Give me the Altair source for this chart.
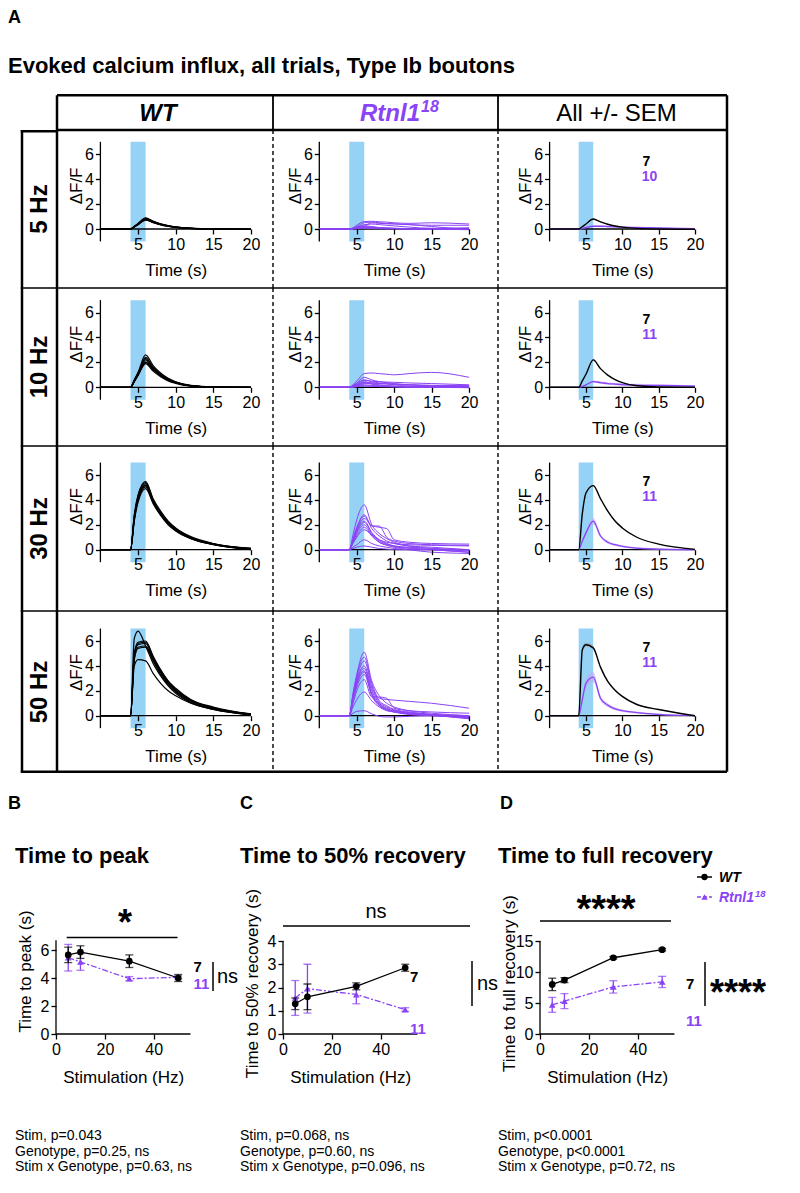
import altair as alt
import pandas as pd

FONT = "Liberation Sans"
PURPLE = "#8a43f5"
BLUE = "#96d1f6"

# ----------------------------- Panel A data -----------------------------
T = [0, 4, 4.5, 5, 6, 7, 8, 9, 10, 12, 15, 20]
row_labels = ["5 Hz", "10 Hz", "30 Hz", "50 Hz"]
col_labels = ["WT", "Rtnl1", "All +/- SEM"]
col_sup = ["", "18", ""]
n_wt = ["7", "7", "7", "7"]
n_rt = ["10", "11", "11", "11"]
stim_window = [4, 6]
x_ticks_a = [5, 10, 15, 20]
y_ticks_a = [0, 2, 4, 6]

wt_5hz = [
    [0, 0, 0.20, 0.42, 0.85, 0.60, 0.40, 0.26, 0.16, 0.06, 0.00, -0.03],
    [0, 0, 0.18, 0.38, 0.78, 0.55, 0.36, 0.23, 0.14, 0.05, -0.01, -0.02],
    [0, 0, 0.20, 0.40, 0.80, 0.58, 0.38, 0.24, 0.15, 0.05, 0.00, -0.02],
    [0, 0, 0.16, 0.35, 0.72, 0.50, 0.33, 0.20, 0.12, 0.04, -0.02, -0.04],
    [0, 0, 0.22, 0.45, 0.90, 0.64, 0.42, 0.28, 0.18, 0.07, 0.01, -0.01],
    [0, 0, 0.19, 0.40, 0.82, 0.60, 0.40, 0.25, 0.15, 0.05, -0.01, -0.03],
    [0, 0, 0.17, 0.37, 0.76, 0.53, 0.35, 0.22, 0.13, 0.04, -0.02, -0.03],
]
rt_5hz = [
    [0, 0, 0.10, 0.30, 0.60, 0.62, 0.58, 0.55, 0.50, 0.45, 0.50, 0.40],
    [0, 0, 0.05, 0.20, 0.50, 0.55, 0.50, 0.45, 0.42, 0.35, 0.30, 0.30],
    [0, 0, 0.05, 0.15, 0.35, 0.40, 0.35, 0.30, 0.25, 0.15, 0.05, 0.00],
    [0, 0, 0.02, 0.08, 0.20, 0.50, 0.45, 0.42, 0.40, 0.35, 0.20, -0.05],
    [0, 0, 0.02, 0.05, 0.10, 0.08, 0.05, 0.03, 0.02, 0.00, -0.02, -0.05],
    [0, 0, 0.03, 0.08, 0.15, 0.12, 0.10, 0.07, 0.05, 0.02, 0.00, 0.00],
    [0, 0, 0.05, 0.15, 0.25, 0.20, 0.12, 0.08, 0.05, 0.02, 0.00, -0.03],
    [0, 0, 0.00, 0.02, 0.05, 0.04, 0.03, 0.02, 0.02, 0.00, -0.02, -0.05],
    [0, 0, 0.03, 0.10, 0.18, 0.15, 0.10, 0.08, 0.06, 0.03, 0.05, 0.10],
    [0, 0, 0.02, 0.05, 0.08, 0.06, 0.04, 0.03, 0.03, 0.02, 0.00, -0.04],
]
wt_10hz = [
    [0, 0, 0.60, 1.20, 2.60, 1.75, 1.15, 0.72, 0.45, 0.15, 0.03, 0.00],
    [0, 0, 0.55, 1.10, 2.40, 1.60, 1.05, 0.66, 0.42, 0.14, 0.02, 0.00],
    [0, 0, 0.50, 1.00, 2.20, 1.50, 0.98, 0.60, 0.38, 0.12, 0.02, -0.01],
    [0, 0, 0.50, 1.00, 2.05, 1.40, 0.92, 0.56, 0.35, 0.11, 0.01, -0.01],
    [0, 0, 0.45, 0.95, 1.90, 1.30, 0.85, 0.52, 0.32, 0.10, 0.01, 0.00],
    [0, 0, 0.48, 0.98, 2.00, 1.45, 0.95, 0.60, 0.38, 0.12, 0.02, 0.00],
    [0, 0, 0.55, 1.12, 2.30, 1.55, 1.00, 0.63, 0.40, 0.13, 0.02, 0.00],
]
rt_10hz = [
    [0, 0, 0.20, 0.50, 1.10, 1.15, 1.10, 1.05, 1.00, 1.10, 1.20, 0.80],
    [0, 0, 0.15, 0.35, 0.80, 0.60, 0.45, 0.38, 0.30, 0.20, 0.10, 0.05],
    [0, 0, 0.10, 0.30, 0.60, 0.45, 0.35, 0.28, 0.20, 0.10, 0.05, 0.00],
    [0, 0, 0.08, 0.20, 0.45, 0.35, 0.30, 0.28, 0.25, 0.20, 0.15, 0.10],
    [0, 0, 0.05, 0.15, 0.35, 0.25, 0.15, 0.10, 0.08, 0.03, 0.00, -0.02],
    [0, 0, 0.05, 0.12, 0.30, 0.35, 0.30, 0.28, 0.25, 0.20, 0.15, 0.15],
    [0, 0, 0.03, 0.08, 0.20, 0.15, 0.10, 0.07, 0.05, 0.02, 0.00, 0.00],
    [0, 0, 0.02, 0.05, 0.12, 0.10, 0.08, 0.06, 0.05, 0.02, 0.00, -0.03],
    [0, 0, 0.05, 0.15, 0.40, 0.30, 0.20, 0.15, 0.10, 0.05, 0.02, 0.00],
    [0, 0, 0.02, 0.05, 0.10, 0.08, 0.05, 0.04, 0.03, 0.01, 0.00, 0.00],
    [0, 0, 0.10, 0.25, 0.55, 0.50, 0.45, 0.42, 0.40, 0.35, 0.30, 0.20],
]
wt_30hz = [
    [0, 0, 2.80, 4.40, 5.50, 4.10, 3.10, 2.30, 1.75, 1.05, 0.50, 0.10],
    [0, 0, 2.60, 4.20, 5.30, 4.00, 3.00, 2.25, 1.70, 1.00, 0.48, 0.08],
    [0, 0, 2.50, 4.10, 5.20, 3.90, 2.90, 2.15, 1.60, 0.95, 0.45, 0.05],
    [0, 0, 2.40, 4.00, 5.05, 3.80, 2.80, 2.05, 1.55, 0.90, 0.42, 0.05],
    [0, 0, 2.30, 3.80, 4.90, 3.70, 2.75, 2.00, 1.50, 0.88, 0.40, 0.02],
    [0, 0, 2.70, 4.30, 5.40, 4.00, 2.95, 2.20, 1.65, 0.98, 0.47, 0.10],
    [0, 0, 2.50, 4.10, 5.15, 3.85, 2.85, 2.10, 1.60, 0.92, 0.43, 0.00],
]
rt_30hz = [
    [0, 0, 1.20, 2.40, 3.60, 2.00, 1.30, 0.90, 0.60, 0.30, 0.10, -0.10],
    [0, 0, 0.90, 1.80, 2.80, 1.70, 1.10, 0.70, 0.50, 0.30, 0.20, 0.00],
    [0, 0, 0.80, 1.70, 2.70, 1.90, 1.90, 1.00, 0.70, 0.50, 0.40, 0.35],
    [0, 0, 0.80, 1.60, 2.50, 1.95, 1.80, 1.70, 0.80, 0.60, 0.50, 0.45],
    [0, 0, 0.70, 1.50, 2.30, 1.40, 0.80, 0.50, 0.30, 0.15, 0.00, -0.20],
    [0, 0, 0.70, 1.40, 2.20, 1.30, 0.70, 0.45, 0.30, 0.20, 0.10, 0.00],
    [0, 0, 0.60, 1.30, 2.00, 1.20, 0.60, 0.35, 0.20, 0.00, -0.20, -0.30],
    [0, 0, 0.55, 1.10, 1.80, 1.10, 0.60, 0.40, 0.25, 0.10, 0.00, -0.20],
    [0, 0, 0.20, 0.40, 0.80, 0.50, 0.30, 0.20, 0.10, 0.00, 0.00, 0.00],
    [0, 0, 0.10, 0.20, 0.30, 0.20, 0.10, 0.05, 0.00, 0.00, 0.00, 0.00],
    [0, 0, 0.50, 1.00, 1.60, 1.20, 0.80, 0.60, 0.50, 0.40, 0.35, 0.30],
]
wt_50hz = [
    [0, 0, 6.20, 6.80, 5.60, 4.20, 3.20, 2.40, 1.80, 1.05, 0.50, 0.10],
    [0, 0, 5.00, 5.90, 6.00, 4.80, 3.70, 2.80, 2.20, 1.30, 0.70, 0.15],
    [0, 0, 4.90, 5.80, 5.90, 4.70, 3.60, 2.75, 2.10, 1.25, 0.65, 0.12],
    [0, 0, 4.80, 5.70, 5.80, 4.60, 3.50, 2.65, 2.00, 1.20, 0.60, 0.10],
    [0, 0, 4.60, 5.50, 5.60, 4.50, 3.45, 2.60, 2.00, 1.20, 0.62, 0.12],
    [0, 0, 4.50, 5.40, 5.50, 4.40, 3.30, 2.50, 1.90, 1.10, 0.55, 0.08],
    [0, 0, 4.00, 4.50, 4.40, 3.40, 2.60, 2.00, 1.60, 1.00, 0.50, 0.05],
]
rt_50hz = [
    [0, 0, 1.80, 3.30, 5.10, 2.80, 1.60, 1.00, 0.70, 0.40, 0.20, 0.00],
    [0, 0, 1.70, 3.20, 4.70, 2.60, 1.40, 1.30, 1.25, 1.15, 1.00, 0.60],
    [0, 0, 1.60, 3.00, 4.40, 2.40, 1.20, 0.80, 0.50, 0.30, 0.10, -0.20],
    [0, 0, 1.50, 2.80, 4.00, 2.20, 1.10, 0.70, 0.45, 0.25, 0.05, -0.25],
    [0, 0, 1.40, 2.70, 3.80, 2.00, 1.00, 0.60, 0.40, 0.20, 0.05, -0.20],
    [0, 0, 1.30, 2.60, 3.60, 1.80, 0.90, 0.55, 0.35, 0.15, 0.00, -0.10],
    [0, 0, 1.30, 2.50, 3.50, 1.70, 0.85, 0.50, 0.30, 0.10, 0.00, -0.15],
    [0, 0, 1.20, 2.30, 3.30, 1.60, 0.80, 0.45, 0.30, 0.15, 0.10, -0.10],
    [0, 0, 0.70, 1.30, 1.90, 1.20, 0.70, 0.40, 0.30, 0.20, 0.10, 0.00],
    [0, 0, 0.20, 0.35, 0.40, 0.15, -0.05, -0.10, -0.10, -0.05, 0.00, 0.00],
    [0, 0, 1.00, 2.00, 2.90, 1.50, 1.50, 1.40, 0.60, 0.40, 0.30, 0.20],
]

wt_mean_5hz = [0, 0, 0.19, 0.40, 0.80, 0.57, 0.38, 0.24, 0.15, 0.05, 0.00, -0.02]
wt_sem_5hz = [0.01, 0.01, 0.02, 0.03, 0.05, 0.04, 0.03, 0.02, 0.02, 0.01, 0.01, 0.01]
rt_mean_5hz = [0, 0, 0.04, 0.12, 0.22, 0.22, 0.20, 0.17, 0.15, 0.12, 0.08, 0.02]
rt_sem_5hz = [0.01, 0.01, 0.02, 0.04, 0.06, 0.07, 0.07, 0.06, 0.06, 0.05, 0.05, 0.05]
wt_mean_10hz = [0, 0, 0.52, 1.05, 2.20, 1.50, 0.98, 0.62, 0.38, 0.12, 0.02, 0.00]
wt_sem_10hz = [0.01, 0.01, 0.03, 0.05, 0.09, 0.06, 0.04, 0.03, 0.02, 0.01, 0.01, 0.01]
rt_mean_10hz = [0, 0, 0.08, 0.20, 0.45, 0.38, 0.30, 0.26, 0.22, 0.18, 0.15, 0.10]
rt_sem_10hz = [0.01, 0.01, 0.02, 0.04, 0.09, 0.09, 0.09, 0.09, 0.09, 0.10, 0.10, 0.07]
wt_mean_30hz = [0, 0, 2.90, 4.55, 5.15, 4.10, 3.10, 2.30, 1.75, 1.00, 0.45, 0.03]
wt_sem_30hz = [0.01, 0.01, 0.10, 0.08, 0.08, 0.07, 0.06, 0.05, 0.04, 0.03, 0.02, 0.02]
rt_mean_30hz = [0, 0, 0.70, 1.35, 2.30, 1.10, 0.60, 0.40, 0.27, 0.12, 0.05, 0.00]
rt_sem_30hz = [0.01, 0.01, 0.10, 0.15, 0.25, 0.15, 0.12, 0.10, 0.08, 0.07, 0.07, 0.07]
wt_mean_50hz = [0, 0, 5.30, 5.70, 5.45, 3.90, 2.75, 2.05, 1.55, 0.90, 0.50, 0.00]
wt_sem_50hz = [0.01, 0.01, 0.20, 0.15, 0.12, 0.10, 0.08, 0.07, 0.06, 0.04, 0.03, 0.02]
rt_mean_50hz = [0, 0, 1.30, 2.60, 3.10, 1.40, 0.85, 0.55, 0.40, 0.25, 0.10, 0.00]
rt_sem_50hz = [0.01, 0.01, 0.20, 0.35, 0.40, 0.20, 0.15, 0.12, 0.10, 0.08, 0.06, 0.05]

wt_traces = [wt_5hz, wt_10hz, wt_30hz, wt_50hz]
rt_traces = [rt_5hz, rt_10hz, rt_30hz, rt_50hz]
wt_means = [(wt_mean_5hz, wt_sem_5hz), (wt_mean_10hz, wt_sem_10hz),
            (wt_mean_30hz, wt_sem_30hz), (wt_mean_50hz, wt_sem_50hz)]
rt_means = [(rt_mean_5hz, rt_sem_5hz), (rt_mean_10hz, rt_sem_10hz),
            (rt_mean_30hz, rt_sem_30hz), (rt_mean_50hz, rt_sem_50hz)]

# ----------------------------- Panels B-D data -----------------------------
stim_hz = [5, 10, 30, 50]
wt_peak = [5.65, 5.85, 5.2, 4.0]
wt_peak_sem = [0.55, 0.45, 0.45, 0.25]
rt_peak = [5.45, 5.15, 3.95, 4.05]
rt_peak_sem = [0.95, 0.6, 0.15, 0.1]
wt_half = [1.3, 1.6, 2.05, 2.85]
wt_half_sem = [0.25, 0.55, 0.15, 0.15]
rt_half = [1.55, 1.95, 1.7, 1.05]
rt_half_sem = [0.75, 1.05, 0.4, 0.08]
wt_full = [8.0, 8.7, 12.3, 13.6]
wt_full_sem = [1.0, 0.4, 0.2, 0.2]
rt_full = [4.7, 5.3, 7.6, 8.4]
rt_full_sem = [1.2, 1.2, 1.0, 0.9]
stats_b = ["Stim, p=0.043", "Genotype, p=0.25, ns", "Stim x Genotype, p=0.63, ns"]
stats_c = ["Stim, p=0.068, ns", "Genotype, p=0.60, ns", "Stim x Genotype, p=0.096, ns"]
stats_d = ["Stim, p<0.0001", "Genotype, p<0.0001", "Stim x Genotype, p=0.72, ns"]

# ----------------------------- layout geometry -----------------------------
COL_W = [216, 225, 229]
COL_X0 = [43.4, 46.3, 51.6]
COL_PPX = [7.53, 7.49, 7.27]
ROW_H = [158, 158, 165, 162]
ROW_Y0 = [99, 99.3, 103.7, 104.7]
PPY_A = 12.45
LABEL_W = 49
LABEL_X = 14
HEADER_H = 36
TOP_H = 86
BH = 414
PPX_B = 2.444

DUMMY = pd.DataFrame({"d": [0]})


class Frame:
    def __init__(self, W, H, x0, ppx, y0, ppy):
        self.xs = alt.Scale(domain=[-x0 / ppx, (W - x0) / ppx], nice=False, zero=False)
        self.ys = alt.Scale(domain=[-(H - y0) / ppy, y0 / ppy], nice=False, zero=False)

    def X(self, f, axis=None):
        if axis is None:
            return alt.X(f, type="quantitative", scale=self.xs)
        return alt.X(f, type="quantitative", scale=self.xs, axis=axis)

    def Y(self, f, axis=None):
        if axis is None:
            return alt.Y(f, type="quantitative", scale=self.ys)
        return alt.Y(f, type="quantitative", scale=self.ys, axis=axis)


def vline(x, y1, y2, w, dash=None):
    kw = dict(color="black", strokeWidth=w)
    if dash:
        kw["strokeDash"] = dash
    return alt.Chart(DUMMY).mark_rule(**kw).encode(x=alt.value(x), y=alt.value(y1), y2=alt.value(y2))


def hline(y, x1, x2, w, color="black", dash=None):
    kw = dict(color=color, strokeWidth=w)
    if dash:
        kw["strokeDash"] = dash
    return alt.Chart(DUMMY).mark_rule(**kw).encode(y=alt.value(y), x=alt.value(x1), x2=alt.value(x2))


def txt(x, y, s, size, color="black", weight="normal", style="normal", align="left",
        baseline="middle", angle=0):
    return alt.Chart(DUMMY).mark_text(
        text=s, font=FONT, fontSize=size, color=color, fontWeight=weight, fontStyle=style,
        align=align, baseline=baseline, angle=angle
    ).encode(x=alt.value(x), y=alt.value(y))


def axis(values, offset, title, tx, ty, angle=0, lsize=16, tsize=17):
    return alt.Axis(
        values=values, offset=offset, domain=False, grid=False, ticks=True, tickSize=5,
        tickWidth=1.3, tickColor="black", labelFont=FONT, labelFontSize=lsize,
        labelColor="black", labelPadding=2, labelFlush=False, labelOverlap=False,
        title=title, titleFont=FONT, titleFontSize=tsize, titleFontWeight="normal",
        titleColor="black", titleX=tx, titleY=ty, titleAngle=angle, titleAlign="center",
        titleBaseline="middle", zindex=1,
    )


def traces_df(traces):
    recs = []
    for k, tr in enumerate(traces):
        for t, v in zip(T, tr):
            recs.append({"t": t, "v": v, "k": k})
    return pd.DataFrame(recs)


def trace_cell(r, c):
    W, H = COL_W[c], ROW_H[r]
    x0, ppx, y0 = COL_X0[c], COL_PPX[c], ROW_Y0[r]
    F = Frame(W, H, x0, ppx, y0, PPY_A)
    xax = axis(x_ticks_a, y0 - H, "Time (s)", x0 + 10 * ppx, 41)
    yax = axis(y_ticks_a, -x0, "ΔF/F", -24, y0 - 3.5 * PPY_A, angle=270)
    band = alt.Chart(pd.DataFrame({"a": [stim_window[0]], "b": [stim_window[1]],
                                   "lo": [-1], "hi": [7]})).mark_rect(color=BLUE).encode(
        x=F.X("a", xax), x2="b:Q", y=F.Y("lo", yax), y2="hi:Q")
    axl = alt.Chart(pd.DataFrame({"x1": [0, 0], "x2": [20, 0], "y1": [0, -1], "y2": [0, 7]})).mark_rule(
        color="black", strokeWidth=1.3).encode(x=F.X("x1"), x2="x2:Q", y=F.Y("y1"), y2="y2:Q")
    layers = [band, axl]
    if c == 0:
        layers.append(alt.Chart(traces_df(wt_traces[r])).mark_line(
            color="black", strokeWidth=1.2, interpolate="monotone").encode(
            x=F.X("t"), y=F.Y("v"), detail="k:N"))
    elif c == 1:
        layers.append(alt.Chart(traces_df(rt_traces[r])).mark_line(
            color=PURPLE, strokeWidth=1.0, interpolate="monotone").encode(
            x=F.X("t"), y=F.Y("v"), detail="k:N"))
    else:
        for (m, s), col, band_col, w in [(rt_means[r], PURPLE, "#c3a6f7", 1.3),
                                         (wt_means[r], "black", "#9a9a9a", 1.4)]:
            df = pd.DataFrame({"t": T, "m": m, "s": s})
            base = alt.Chart(df).transform_calculate(lo="datum.m - datum.s", hi="datum.m + datum.s")
            layers.append(base.mark_area(color=band_col, opacity=0.6, interpolate="monotone").encode(
                x=F.X("t"), y=F.Y("lo"), y2="hi:Q"))
            layers.append(base.mark_line(color=col, strokeWidth=w, interpolate="monotone").encode(
                x=F.X("t"), y=F.Y("m")))
        ndf = pd.DataFrame({"x": [13.3, 13.75], "y": [5.4, 4.2], "n": [n_wt[r], n_rt[r]],
                            "g": ["WT", "Rtnl"]})
        layers.append(alt.Chart(ndf).mark_text(font=FONT, fontSize=14, fontWeight="bold",
                                               align="center", baseline="middle").encode(
            x=F.X("x"), y=F.Y("y"), text="n:N",
            color=alt.Color("g:N", scale=alt.Scale(domain=["WT", "Rtnl"], range=["black", PURPLE]),
                            legend=None)))
    last = r == 3
    vend = H - 1.3 if last else H
    layers.append(hline(H - 1.25 if last else H, 0, W, 2.5 if last else 1.6))
    if c < 2:
        layers.append(vline(W, 0, vend, 1.4, dash=[4, 3]))
    else:
        layers.append(vline(W, 0, vend, 2.5))
    return alt.layer(*layers).properties(width=W, height=H)


def label_cell(r):
    H = ROW_H[r]
    last = r == 3
    vend = H - 1.3 if last else H
    layers = [txt((LABEL_X + LABEL_W) / 2, H / 2, row_labels[r], 24, weight="bold",
                  align="center", angle=270),
              vline(LABEL_X, 0, vend, 2.5), vline(LABEL_W, 0, vend, 2.5),
              hline(H - 1.25 if last else H, LABEL_X - 1.25, LABEL_W, 2.5 if last else 1.6)]
    if r == 0:
        layers.append(hline(1.25, LABEL_X - 1.25, LABEL_W, 2.5))
    return alt.layer(*layers).properties(width=LABEL_W, height=H)


def header_cell(c):
    W = COL_W[c]
    if c == 0:
        layers = [txt(101, 26.5, col_labels[0], 24, weight="bold", style="italic",
                      align="center", baseline="alphabetic")]
    elif c == 1:
        layers = [txt(147, 26.5, col_labels[1], 24, color=PURPLE, weight="bold", style="italic",
                      align="right", baseline="alphabetic"),
                  txt(148, 18, col_sup[1], 16, color=PURPLE, weight="bold", style="italic",
                      align="left", baseline="alphabetic")]
    else:
        layers = [txt(W / 2 + 4, 26.5, col_labels[2], 24, align="center", baseline="alphabetic")]
    layers += [hline(1.25, 0, W, 2.5), hline(HEADER_H, 0, W, 2.5),
               vline(W, 1.3, HEADER_H, 2.5 if c == 2 else 1.8)]
    if c == 0:
        layers.append(vline(0, 1.3, HEADER_H, 2.5))
    return alt.layer(*layers).properties(width=W, height=HEADER_H)


def series_layers(F, mean, sem, color, shape, dash=None):
    df = pd.DataFrame({"s": stim_hz, "m": mean, "e": sem})
    base = alt.Chart(df).transform_calculate(lo="datum.m - datum.e", hi="datum.m + datum.e")
    lkw = dict(color=color, strokeWidth=1.3)
    if dash:
        lkw["strokeDash"] = dash
    return [
        base.mark_rule(color=color, strokeWidth=1.3).encode(x=F.X("s"), y=F.Y("lo"), y2="hi:Q"),
        base.mark_tick(color=color, orient="horizontal", size=8, thickness=1.3).encode(
            x=F.X("s"), y=F.Y("lo")),
        base.mark_tick(color=color, orient="horizontal", size=8, thickness=1.3).encode(
            x=F.X("s"), y=F.Y("hi")),
        base.mark_line(**lkw).encode(x=F.X("s"), y=F.Y("m")),
        base.mark_point(shape=shape, filled=True, size=45, color=color, opacity=1).encode(
            x=F.X("s"), y=F.Y("m")),
    ]


def stat_panel(W, x0, y0, ppy, ytop, yticks, ytitle, ytitle_y, wt, wt_e, rt, rt_e, extra):
    F = Frame(W, BH, x0, PPX_B, y0, ppy)
    xax = axis([0, 20, 40], y0 - BH, "Stimulation (Hz)", x0 + 27.5 * PPX_B, 43)
    yax = axis(yticks, -x0, ytitle, -31, ytitle_y, angle=270)
    axl = alt.Chart(pd.DataFrame({"x1": [0, 0], "x2": [55, 0], "y1": [0, 0], "y2": [0, ytop]})).mark_rule(
        color="black", strokeWidth=1.3).encode(x=F.X("x1", xax), x2="x2:Q", y=F.Y("y1", yax), y2="y2:Q")
    layers = [axl]
    layers += series_layers(F, rt, rt_e, PURPLE, "triangle-up", dash=[6, 2, 2, 2])
    layers += series_layers(F, wt, wt_e, "black", "circle")
    layers += extra
    return alt.layer(*layers).properties(width=W, height=BH)


def stats_text(x, lines):
    return [txt(x, 363 + 15.5 * i, s, 14) for i, s in enumerate(lines)]


def rtnl_label(x, y, size):
    return [txt(x, y, "Rtnl1", size, color=PURPLE, weight="bold", style="italic",
                baseline="alphabetic"),
            txt(x + 2.5 * size + 1, y - size * 0.38, "18", size * 0.68, color=PURPLE,
                weight="bold", style="italic", baseline="alphabetic")]


# ----------------------------- assemble -----------------------------
top = alt.layer(
    txt(0, 15, "A", 18, weight="bold", baseline="alphabetic"),
    txt(0, 58, "Evoked calcium influx, all trials, Type Ib boutons", 22, weight="bold"),
).properties(width=780, height=TOP_H)

spacer = alt.Chart(DUMMY).mark_text(text="").encode(x=alt.value(10), y=alt.value(10)).properties(
    width=LABEL_W, height=HEADER_H)
cells = [spacer] + [header_cell(c) for c in range(3)]
for r in range(4):
    cells += [label_cell(r)] + [trace_cell(r, c) for c in range(3)]
grid = alt.concat(*cells, columns=4, spacing=0, bounds="flush")

panel_b = stat_panel(
    232, 48, 261, 14, 6.7, [0, 2, 4, 6], "Time to peak (s)", 198,
    wt_peak, wt_peak_sem, rt_peak, rt_peak_sem,
    [txt(0, 31, "B", 18, weight="bold"), txt(7, 83, "Time to peak", 22, weight="bold"),
     hline(164.5, 58.7, 169.5, 1.5), txt(117, 162, "*", 36, weight="bold", align="center",
                                          baseline="alphabetic"),
     txt(185.5, 194, "7", 15, weight="bold"), txt(185.5, 211, "11", 15, color=PURPLE, weight="bold"),
     vline(205, 189, 218, 1.5), txt(209, 204, "ns", 20)] + stats_text(7, stats_b))

panel_c = stat_panel(
    258, 43, 261, 23.25, 4, [0, 1, 2, 3, 4], "Time to 50% recovery (s)", 210,
    wt_half, wt_half_sem, rt_half, rt_half_sem,
    [txt(0, 31, "C", 18, weight="bold"), txt(0, 83, "Time to 50% recovery", 22, weight="bold"),
     hline(153, 43, 230, 1.5), txt(136, 139, "ns", 20, align="center"),
     txt(170, 204, "7", 15, weight="bold"), txt(170, 256, "11", 15, color=PURPLE, weight="bold"),
     vline(232, 188, 233, 1.5), txt(237, 211, "ns", 20)] + stats_text(0, stats_c))

legend_d = [hline(104, 199, 214, 1.5),
            alt.Chart(DUMMY).mark_point(shape="circle", filled=True, size=40, color="black", opacity=1).encode(
                x=alt.value(206.5), y=alt.value(104)),
            txt(221, 109, "WT", 14, weight="bold", style="italic", baseline="alphabetic"),
            hline(124, 199, 214, 1.5, color=PURPLE, dash=[4, 2]),
            alt.Chart(DUMMY).mark_point(shape="triangle-up", filled=True, size=40, color=PURPLE,
                                        opacity=1).encode(x=alt.value(206.5), y=alt.value(124))
            ] + rtnl_label(221, 129, 14)

panel_d = stat_panel(
    294, 42, 261, 6.2, 15, [0, 5, 10, 15], "Time to full recovery (s)", 210,
    wt_full, wt_full_sem, rt_full, rt_full_sem,
    [txt(2, 31, "D", 18, weight="bold"), txt(0, 83, "Time to full recovery", 22, weight="bold"),
     hline(148, 42, 173, 1.5), txt(108, 149, "****", 38, weight="bold", align="center",
                                   baseline="alphabetic"),
     txt(188, 211, "7", 15, weight="bold"), txt(188, 248, "11", 15, color=PURPLE, weight="bold"),
     vline(207, 189, 233, 1.5), txt(212, 232, "****", 36, weight="bold", baseline="alphabetic")]
    + legend_d + stats_text(0, stats_d))

bottom = alt.hconcat(panel_b, panel_c, panel_d, spacing=0, bounds="flush")

chart = alt.vconcat(top, grid, bottom, spacing=0).properties(
    padding=0, background="white"
).configure_view(stroke=None)

chart.save("out.html", embed_options={"renderer": "svg", "actions": False})
